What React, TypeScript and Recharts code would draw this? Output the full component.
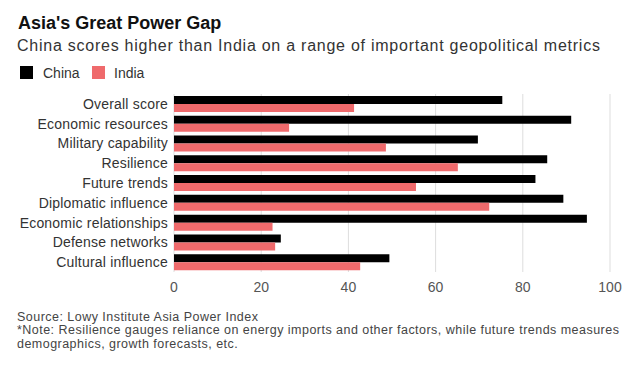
import { BarChart, Bar, XAxis, YAxis, CartesianGrid } from 'recharts';

const categories = [
  'Overall score',
  'Economic resources',
  'Military capability',
  'Resilience',
  'Future trends',
  'Diplomatic influence',
  'Economic relationships',
  'Defense networks',
  'Cultural influence',
];
const china = [75.3, 91.1, 69.7, 85.6, 82.9, 89.3, 94.7, 24.5, 49.4];
const india = [41.3, 26.4, 48.6, 65.1, 55.5, 72.3, 22.6, 23.2, 42.7];
const xTicks = [0, 20, 40, 60, 80, 100];

const FONT = '"Liberation Sans", Arial, Helvetica, sans-serif';
const PINK = '#ef6a6c';

const data = categories.map((name, i) => ({ name, china: china[i], india: india[i] }));

export default function App() {
  return (
    <div style={{ position: 'absolute', left: 0, top: 0, width: 638, height: 370, background: '#fff', fontFamily: FONT, overflow: 'hidden' }}>
      <div style={{ position: 'absolute', left: 18, top: 14, fontSize: 18, lineHeight: '18px', fontWeight: 700, color: '#111' }}>
        Asia's Great Power Gap
      </div>
      <div style={{ position: 'absolute', left: 17, top: 37.5, fontSize: 16, lineHeight: '16px', letterSpacing: 0.75, color: '#333', whiteSpace: 'nowrap' }}>
        China scores higher than India on a range of important geopolitical metrics
      </div>
      <div style={{ position: 'absolute', left: 20, top: 66, width: 13, height: 13, background: '#000' }} />
      <div style={{ position: 'absolute', left: 43, top: 66, fontSize: 14, lineHeight: '14px', color: '#333' }}>China</div>
      <div style={{ position: 'absolute', left: 92, top: 66, width: 13, height: 13, background: PINK }} />
      <div style={{ position: 'absolute', left: 114, top: 66, fontSize: 14, lineHeight: '14px', color: '#333' }}>India</div>

      <div style={{ position: 'absolute', left: 0, top: 0 }}>
        <BarChart
          width={638}
          height={370}
          data={data}
          layout="vertical"
          margin={{ top: 94, right: 28, left: 0, bottom: 68 }}
          barCategoryGap="10%"
          barGap={0}
        >
          <CartesianGrid horizontal={false} stroke="#dddddd" />
          <XAxis
            type="number"
            domain={[0, 100]}
            ticks={xTicks}
            axisLine={false}
            tickLine={false}
            tickMargin={4}
            height={30}
            tick={{ fill: '#555', fontSize: 14, fontFamily: FONT }}
          />
          <YAxis
            type="category"
            dataKey="name"
            width={174}
            axisLine={false}
            tickLine={false}
            tickMargin={0}
            interval={0}
            tick={{ fill: '#333', fontSize: 14, fontFamily: FONT, letterSpacing: 0.2 }}
          />
          <Bar dataKey="china" fill="#000000" isAnimationActive={false} />
          <Bar dataKey="india" fill={PINK} isAnimationActive={false} />
        </BarChart>
      </div>

      <div style={{ position: 'absolute', left: 17, top: 311, fontSize: 12.5, lineHeight: '13.3px', letterSpacing: 0.47, color: '#444', width: 625, whiteSpace: 'nowrap' }}>
        Source: Lowy Institute Asia Power Index
        <br />
        *Note: Resilience gauges reliance on energy imports and other factors, while future trends measures
        <br />
        demographics, growth forecasts, etc.
      </div>
    </div>
  );
}
